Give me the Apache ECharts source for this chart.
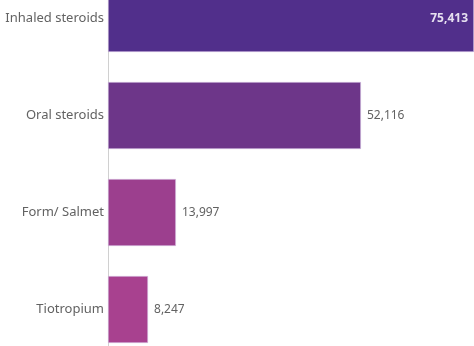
<!DOCTYPE html>
<html>
<head>
<meta charset="utf-8">
<script src="https://cdn.jsdelivr.net/npm/echarts@6/dist/echarts.min.js"></script>
<style>
  html, body { margin: 0; padding: 0; background: #fff; }
  #chart { width: 474px; height: 346px; }
</style>
</head>
<body>
<div id="chart"></div>
<script>
// Prescriptions by drug class
const categories = ['Inhaled steroids', 'Oral steroids', 'Form/ Salmet', 'Tiotropium'];
const values = [75413, 52116, 13997, 8247];
const barColors = ['#512f8b', '#6d3689', '#9c3f8e', '#a8418f'];

const fmt = v => v.toLocaleString('en-US');

const chart = echarts.init(document.getElementById('chart'), null, { renderer: 'canvas' });

chart.setOption({
  animation: false,
  grid: {
    left: 108, width: 366, top: -30, height: 388,
    containLabel: false,
    outerBoundsMode: 'none'
  },
  xAxis: {
    type: 'value',
    min: 0,
    max: values[0],
    show: false
  },
  yAxis: {
    type: 'category',
    data: categories,
    inverse: true,
    axisLine: { show: true, lineStyle: { color: '#d0d0d0', width: 1 } },
    axisTick: { show: false },
    axisLabel: {
      color: '#626262',
      fontFamily: 'Noto Sans',
      fontSize: 13,
      margin: 4
    }
  },
  series: [{
    type: 'bar',
    barCategoryGap: '31%',
    data: values.map((v, i) => {
      const inside = i === 0;
      return {
        value: v,
        itemStyle: { color: barColors[i], borderColor: '#d7c4e6', borderWidth: 0.6 },
        label: inside
          ? { position: 'insideRight', distance: 6, color: '#e6e0f0', fontWeight: 'bold' }
          : { position: 'right', distance: 6, color: '#626262' }
      };
    }),
    label: {
      show: true,
      fontFamily: 'Noto Sans',
      fontSize: 12,
      formatter: p => fmt(p.value)
    }
  }]
});
</script>
</body>
</html>
